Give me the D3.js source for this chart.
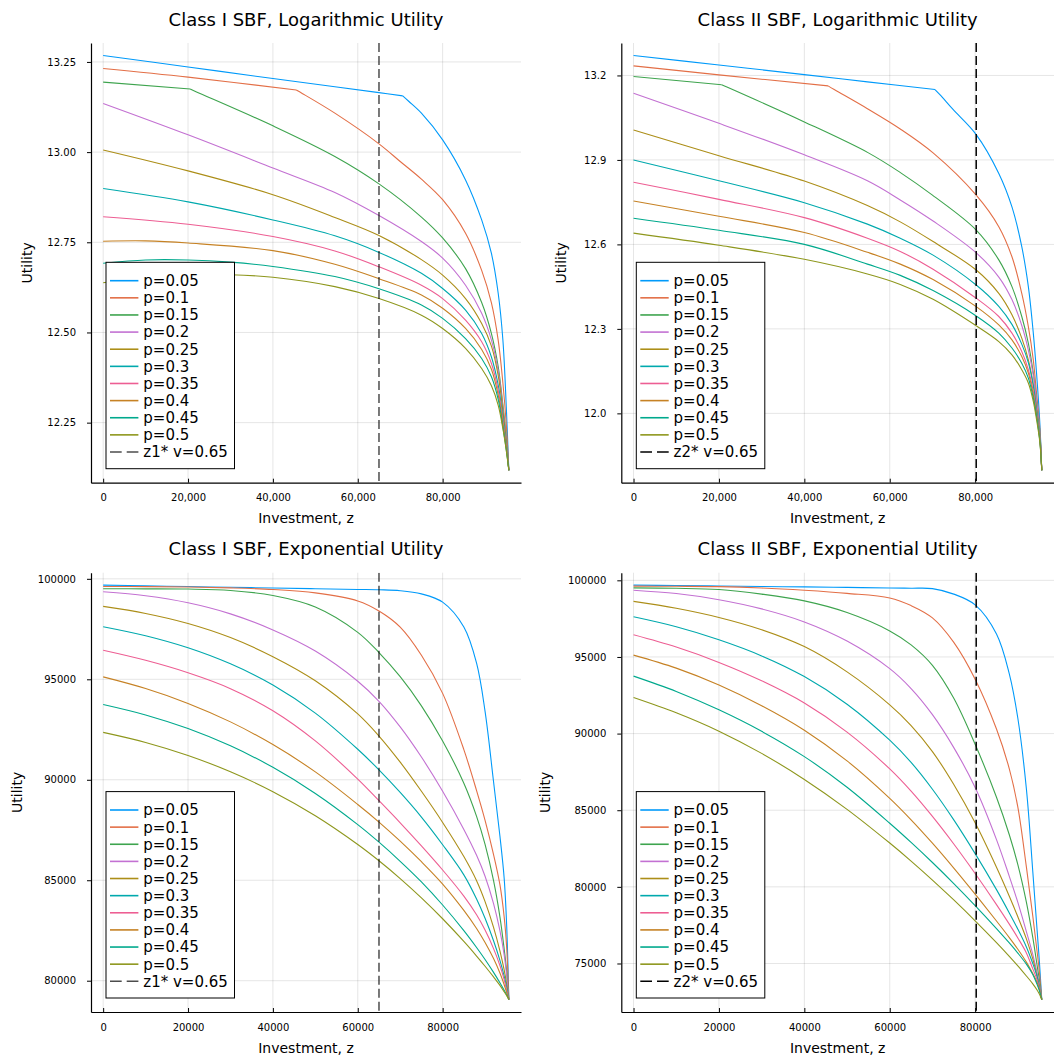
<!DOCTYPE html>
<html>
<head>
<meta charset="utf-8">
<script src="https://cdn.jsdelivr.net/npm/d3@7"></script>
<style>
  body { margin: 0; background: #fff; }
  text { font-family: "DejaVu Sans", sans-serif; }
</style>
</head>
<body>
<svg id="chart" width="1054" height="1059"></svg>
<script>
const colors = ["#009afa", "#e36f47", "#3ea44e", "#c371d2", "#ac8e18",
                "#00a9ad", "#ed5e93", "#c68225", "#00a98d", "#8e971d"];
const pLabels = ["p=0.05", "p=0.1", "p=0.15", "p=0.2", "p=0.25",
                 "p=0.3", "p=0.35", "p=0.4", "p=0.45", "p=0.5"];
const zMax = 95600;
const xTicks = [0, 20000, 40000, 60000, 80000];
const zStar1 = 65000;
const zStar2 = 80250;

// corner points of the log curves (p = 0.05, 0.1, 0.15)
const kinksI = [70600, 45500, 20500];
const kinksII = [70600, 45560, 20630];

// log utility, class I SBF: [z, utility] per p
const logI = [
  [[0,13.268],[20000,13.236],[40000,13.204],[54600,13.181],[65000,13.165],[70600,13.156],[72000,13.141],[75000,13.108],[80000,13.034],[85400,12.923],[89200,12.812],[91500,12.719],[93100,12.608],[94200,12.479],[95000,12.294],[95600,12.118]],
  [[0,13.232],[20000,13.208],[45500,13.172],[47000,13.162],[54600,13.108],[65000,13.023],[70000,12.974],[75000,12.925],[80000,12.868],[85400,12.775],[89200,12.672],[91500,12.582],[93100,12.478],[94200,12.360],[95000,12.245],[95600,12.118]],
  [[0,13.194],[20500,13.175],[22000,13.167],[40000,13.073],[54600,12.988],[65000,12.912],[75000,12.820],[80000,12.762],[85400,12.677],[89200,12.583],[91500,12.497],[93100,12.405],[94200,12.300],[95000,12.210],[95600,12.118]],
  [[0,13.135],[20000,13.048],[40000,12.956],[54600,12.888],[65000,12.824],[75000,12.752],[80000,12.706],[85400,12.631],[89200,12.553],[91500,12.479],[93100,12.393],[94200,12.292],[95000,12.205],[95600,12.118]],
  [[0,13.006],[20000,12.948],[40000,12.882],[54600,12.819],[65000,12.769],[75000,12.702],[80000,12.659],[85400,12.594],[89200,12.525],[91500,12.462],[93100,12.380],[94200,12.283],[95000,12.200],[95600,12.118]],
  [[0,12.899],[20000,12.862],[40000,12.812],[54600,12.768],[65000,12.722],[75000,12.664],[80000,12.622],[85400,12.562],[89200,12.497],[91500,12.432],[93100,12.354],[94200,12.266],[95000,12.190],[95600,12.118]],
  [[0,12.821],[20000,12.800],[40000,12.766],[54600,12.726],[65000,12.682],[75000,12.631],[80000,12.594],[85400,12.534],[89200,12.474],[91500,12.414],[93100,12.340],[94200,12.256],[95000,12.185],[95600,12.118]],
  [[0,12.753],[10000,12.754],[20000,12.748],[40000,12.727],[54600,12.689],[65000,12.649],[75000,12.604],[80000,12.567],[85400,12.511],[89200,12.453],[91500,12.398],[93100,12.326],[94200,12.247],[95000,12.180],[95600,12.118]],
  [[0,12.692],[10000,12.701],[20000,12.701],[30000,12.695],[40000,12.683],[54600,12.655],[65000,12.621],[75000,12.576],[80000,12.539],[85400,12.483],[89200,12.428],[91500,12.377],[93100,12.314],[94200,12.238],[95000,12.175],[95600,12.118]],
  [[0,12.638],[10000,12.652],[20000,12.660],[30000,12.660],[40000,12.653],[54600,12.627],[65000,12.594],[75000,12.548],[80000,12.511],[85400,12.456],[89200,12.400],[91500,12.352],[93100,12.298],[94200,12.233],[95000,12.172],[95600,12.118]]
];

// log utility, class II SBF
const logII = [
  [[0,13.271],[20000,13.237],[40000,13.203],[54770,13.177],[70600,13.150],[71800,13.131],[74770,13.080],[80250,12.990],[85540,12.852],[88620,12.733],[90920,12.592],[92460,12.450],[93620,12.285],[94380,12.143],[95150,11.966],[95600,11.798]],
  [[0,13.234],[20000,13.202],[45560,13.163],[47000,13.150],[54770,13.082],[62460,13.010],[70150,12.925],[80250,12.775],[85540,12.663],[88620,12.556],[90920,12.426],[92460,12.308],[93620,12.190],[94380,12.072],[95150,11.945],[95600,11.798]],
  [[0,13.196],[20630,13.167],[22000,13.158],[40000,13.035],[55000,12.925],[62500,12.855],[70000,12.775],[80250,12.651],[85540,12.545],[88620,12.450],[90920,12.344],[92460,12.249],[93620,12.143],[94380,12.048],[95150,11.935],[95600,11.798]],
  [[0,13.137],[20000,13.030],[40000,12.918],[54770,12.826],[62460,12.758],[70150,12.683],[80250,12.570],[85540,12.484],[88620,12.404],[90920,12.312],[92460,12.225],[93620,12.135],[94380,12.045],[95150,11.932],[95600,11.798]],
  [[0,13.006],[20000,12.915],[40000,12.825],[54770,12.738],[62460,12.680],[70150,12.610],[80250,12.509],[85540,12.426],[88620,12.350],[90920,12.267],[92460,12.190],[93620,12.102],[94380,12.019],[95150,11.922],[95600,11.798]],
  [[0,12.900],[20000,12.826],[40000,12.748],[54770,12.672],[62460,12.622],[70150,12.562],[80250,12.456],[85540,12.380],[88620,12.316],[90920,12.246],[92460,12.180],[93620,12.098],[94380,12.012],[95150,11.918],[95600,11.798]],
  [[0,12.821],[20000,12.760],[40000,12.695],[54770,12.622],[62460,12.575],[70150,12.512],[80250,12.409],[85540,12.344],[88620,12.285],[90920,12.220],[92460,12.155],[93620,12.078],[94380,12.001],[95150,11.912],[95600,11.798]],
  [[0,12.754],[20000,12.700],[40000,12.642],[54770,12.572],[62460,12.530],[70150,12.475],[80250,12.379],[85540,12.314],[88620,12.261],[90920,12.202],[92460,12.143],[93620,12.066],[94380,11.995],[95150,11.907],[95600,11.798]],
  [[0,12.693],[20000,12.650],[40000,12.600],[54770,12.530],[62460,12.490],[70150,12.436],[80250,12.346],[85540,12.285],[88620,12.232],[90920,12.178],[92460,12.125],[93620,12.054],[94380,11.989],[95150,11.902],[95600,11.798]],
  [[0,12.640],[20000,12.597],[40000,12.547],[54770,12.495],[62460,12.458],[70150,12.405],[80250,12.311],[85540,12.255],[88620,12.208],[90920,12.155],[92460,12.108],[93620,12.043],[94380,11.978],[95150,11.897],[95600,11.798]]
];

// exponential utility, values at zGrid
const zGrid = [0, 10000, 20000, 30000, 40000, 50000, 60000, 65000, 70000, 75000, 80000, 85000, 88000, 90000, 92000, 93500, 94500, 95100, 95600];
const expI = [
  [99686, 99650, 99615, 99579, 99543, 99508, 99472, 99454, 99410, 99250, 98838, 97600, 95800, 93400, 89900, 87200, 85100, 82700, 79062],
  [99620, 99610, 99590, 99550, 99470, 99300, 98900, 98400, 97600, 96200, 94300, 91500, 89460, 87980, 86280, 84780, 83180, 81620, 79062],
  [99504, 99502, 99490, 99420, 99170, 98600, 97338, 96330, 95130, 93680, 91930, 89830, 88180, 86780, 84980, 83180, 81580, 80450, 79062],
  [99355, 99155, 98805, 98255, 97455, 96405, 94905, 93905, 92630, 91130, 89430, 87530, 86240, 85200, 83840, 82490, 81290, 80250, 79062],
  [98627, 98277, 97777, 97077, 96127, 94927, 93277, 92177, 90877, 89427, 87877, 86177, 84977, 83937, 82657, 81487, 80537, 79817, 79062],
  [97618, 97168, 96568, 95768, 94718, 93318, 91518, 90493, 89368, 88143, 86768, 85268, 84068, 83108, 81988, 81013, 80233, 79663, 79062],
  [96444, 95944, 95324, 94534, 93434, 91934, 90034, 88959, 87859, 86709, 85509, 84209, 83279, 82519, 81599, 80759, 80059, 79519, 79062],
  [95121, 94541, 93801, 92881, 91751, 90391, 88771, 87896, 86946, 85921, 84811, 83501, 82601, 81901, 81101, 80381, 79801, 79411, 79062],
  [93748, 93228, 92548, 91688, 90618, 89318, 87768, 86893, 85943, 84918, 83768, 82493, 81653, 81053, 80413, 79895, 79525, 79285, 79062],
  [92359, 91859, 91209, 90399, 89409, 88209, 86779, 85969, 85084, 84124, 83084, 81954, 81228, 80720, 80188, 79768, 79450, 79255, 79062]
];
const expII = [
  [99686, 99660, 99630, 99600, 99570, 99540, 99500, 99485, 99460, 99100, 98400, 96500, 93900, 91000, 86400, 81000, 77200, 74900, 72646],
  [99620, 99610, 99589, 99500, 99350, 99150, 98850, 98350, 97550, 95950, 93550, 90300, 87700, 85200, 81300, 78100, 75800, 74300, 72646],
  [99504, 99480, 99400, 99100, 98658, 97900, 96700, 95785, 94450, 92300, 89300, 85850, 83400, 81450, 79000, 76700, 74900, 73800, 72646],
  [99355, 99135, 98735, 98135, 97285, 96035, 94235, 92935, 91235, 89085, 86485, 83085, 80685, 78985, 77085, 75600, 74400, 73550, 72646],
  [98627, 98177, 97577, 96777, 95677, 94027, 91877, 90527, 88827, 86677, 84177, 81277, 79387, 78047, 76607, 75300, 74200, 73400, 72646],
  [97618, 96968, 96118, 95068, 93718, 91918, 89568, 88118, 86368, 84368, 82168, 79818, 78300, 77240, 76080, 75000, 74150, 73340, 72646],
  [96444, 95644, 94644, 93444, 91994, 90094, 87694, 86244, 84594, 82794, 80869, 78844, 77569, 76669, 75689, 74649, 73949, 73300, 72646],
  [95121, 94271, 93171, 91821, 90221, 88221, 85771, 84371, 82846, 81221, 79521, 77771, 76691, 75931, 75091, 74341, 73760, 73250, 72646],
  [93748, 92748, 91548, 90148, 88498, 86498, 84148, 82898, 81588, 80213, 78778, 77278, 76339, 75679, 74959, 74284, 73640, 73180, 72646],
  [92359, 91359, 90159, 88709, 87009, 85059, 82859, 81684, 80444, 79144, 77784, 76359, 75465, 74845, 74185, 73675, 73275, 72975, 72646]
];

const yTicksLogI = [12.25, 12.5, 12.75, 13.0, 13.25];
const yTicksLogII = [12.0, 12.3, 12.6, 12.9, 13.2];
const yTicksExpI = [80000, 85000, 90000, 95000, 100000];
const yTicksExpII = [75000, 80000, 85000, 90000, 95000, 100000];

const onGrid = vals => vals.map((v, i) => [zGrid[i], v]);

const svg = d3.select("#chart");
const xDom = [-0.03 * zMax, 1.03 * zMax];

// split a series at its corner so the corner stays sharp
function pieces(s, kink) {
  const k = s.findIndex(d => d[0] === kink);
  return k > 0 ? [s.slice(0, k + 1), s.slice(k)] : [s];
}

function panel(o) {
  const x = d3.scaleLinear().domain(xDom).range([o.left, o.right]);
  const vals = o.series.flatMap(s => s.map(d => d[1]));
  const lo = d3.min(vals), hi = d3.max(vals), pad = (hi - lo) * 0.03;
  const y = d3.scaleLinear().domain([lo - pad, hi + pad]).range([o.bottom, o.top]);
  const g = svg.append("g");

  g.append("clipPath").attr("id", "clip" + o.id).append("rect")
    .attr("x", o.left).attr("y", o.top)
    .attr("width", o.right - o.left).attr("height", o.bottom - o.top);

  // grid
  g.append("g").selectAll("line").data(xTicks).join("line")
    .attr("x1", d => x(d)).attr("x2", d => x(d))
    .attr("y1", o.top).attr("y2", o.bottom)
    .attr("stroke", "#000").attr("stroke-opacity", 0.1);
  g.append("g").selectAll("line").data(o.yTicks).join("line")
    .attr("x1", o.left).attr("x2", o.right)
    .attr("y1", d => y(d)).attr("y2", d => y(d))
    .attr("stroke", "#000").attr("stroke-opacity", 0.1);

  // curves
  const line = d3.line().x(d => x(d[0])).y(d => y(d[1]))
    .curve(d3.curveCatmullRom.alpha(0.5));
  const plot = g.append("g").attr("clip-path", `url(#clip${o.id})`);
  const segs = o.series.flatMap((s, i) =>
    pieces(s, (o.kinks || [])[i]).map(pts => ({ pts, i })));
  plot.selectAll("path").data(segs).join("path")
    .attr("d", d => line(d.pts))
    .attr("fill", "none")
    .attr("stroke", d => colors[d.i])
    .attr("stroke-width", 1.1);
  plot.append("line")
    .attr("x1", x(o.zStar)).attr("x2", x(o.zStar))
    .attr("y1", o.top).attr("y2", o.bottom)
    .attr("stroke", "#000").attr("stroke-opacity", o.dashAlpha)
    .attr("stroke-width", 1.5).attr("stroke-dasharray", "9,4");

  // axes
  const xAxis = g.append("g")
    .attr("transform", `translate(0,${o.bottom})`)
    .call(d3.axisBottom(x).tickValues(xTicks).tickFormat(o.xFmt)
      .tickSize(-4).tickSizeOuter(0).tickPadding(11.5));
  const yAxis = g.append("g")
    .attr("transform", `translate(${o.left},0)`)
    .call(d3.axisLeft(y).tickValues(o.yTicks).tickFormat(o.yFmt)
      .tickSize(4).tickSizeOuter(0).tickPadding(11));
  [xAxis, yAxis].forEach(a => {
    a.attr("font-family", "DejaVu Sans").attr("font-size", 10);
    a.select(".domain").attr("stroke", "#000").attr("stroke-width", 1.2);
    a.selectAll(".tick line").attr("stroke", "#000");
    a.selectAll(".tick text").attr("fill", "#000");
  });

  // labels
  const cx = (o.left + o.right) / 2;
  g.append("text").attr("x", cx).attr("y", o.top - 17.3)
    .attr("text-anchor", "middle").attr("font-size", 18).text(o.title);
  g.append("text").attr("x", cx).attr("y", o.bottom + 40.6)
    .attr("text-anchor", "middle").attr("font-size", 14).text("Investment, z");
  g.append("text")
    .attr("transform", `translate(${o.yLabelX},${(o.top + o.bottom) / 2}) rotate(-90)`)
    .attr("text-anchor", "middle").attr("font-size", 14).text("Utility");

  // legend
  const bw = 128.5, bh = 206.4;
  const bx = o.left + 15, by = o.bottom - 14 - bh;
  const leg = g.append("g");
  leg.append("rect").attr("x", bx).attr("y", by).attr("width", bw).attr("height", bh)
    .attr("fill", "#fff").attr("stroke", "#000").attr("stroke-width", 1);
  const items = pLabels.map((t, i) => ({ t, c: colors[i], dash: null, a: 1 }))
    .concat([{ t: o.dashLabel, c: "#000", dash: "11.7,5", a: o.dashAlpha }]);
  const rows = leg.selectAll("g").data(items).join("g")
    .attr("transform", (d, i) => `translate(0,${by + 18.4 + i * 17.13})`);
  rows.append("line")
    .attr("x1", bx + 4).attr("x2", bx + 32.4)
    .attr("stroke", d => d.c).attr("stroke-opacity", d => d.a)
    .attr("stroke-width", 1.6)
    .attr("stroke-dasharray", d => d.dash);
  rows.append("text")
    .attr("x", bx + 37.3).attr("y", 5.4)
    .attr("font-size", 15).text(d => d.t);
}

panel({ id: 1, title: "Class I SBF, Logarithmic Utility", series: logI, kinks: kinksI,
  left: 91, right: 521, top: 43, bottom: 482.7, yTicks: yTicksLogI,
  yFmt: d3.format(".2f"), xFmt: d3.format(","), zStar: zStar1, dashAlpha: 0.7,
  dashLabel: "z1* v=0.65", yLabelX: 31.7 });
panel({ id: 2, title: "Class II SBF, Logarithmic Utility", series: logII, kinks: kinksII,
  left: 621.3, right: 1054, top: 43, bottom: 482.7, yTicks: yTicksLogII,
  yFmt: d3.format(".1f"), xFmt: d3.format(","), zStar: zStar2, dashAlpha: 1,
  dashLabel: "z2* v=0.65", yLabelX: 566.3 });
panel({ id: 3, title: "Class I SBF, Exponential Utility", series: expI.map(onGrid),
  left: 91, right: 521, top: 572.7, bottom: 1012, yTicks: yTicksExpI,
  yFmt: d3.format("d"), xFmt: d3.format("d"), zStar: zStar1, dashAlpha: 0.7,
  dashLabel: "z1* v=0.65", yLabelX: 21.7 });
panel({ id: 4, title: "Class II SBF, Exponential Utility", series: expII.map(onGrid),
  left: 621.3, right: 1054, top: 572.7, bottom: 1012, yTicks: yTicksExpII,
  yFmt: d3.format("d"), xFmt: d3.format("d"), zStar: zStar2, dashAlpha: 1,
  dashLabel: "z2* v=0.65", yLabelX: 549.7 });
</script>
</body>
</html>
